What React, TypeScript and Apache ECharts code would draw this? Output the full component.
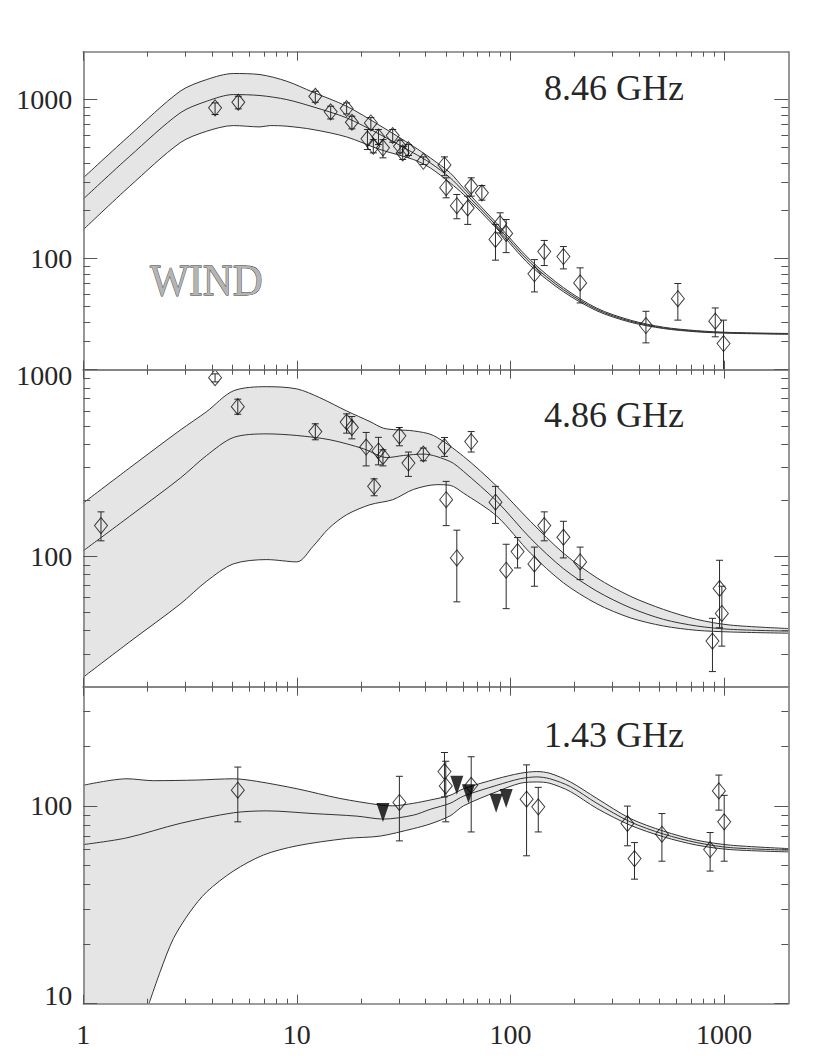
import { useEffect, useRef } from 'react';
import * as echarts from 'echarts';

// ---------------- axes ----------------
const X_MIN = 1;
const X_MAX = 2000;
const X_MAJOR_TICKS = [1, 10, 100, 1000];
const X_MINOR_TICKS = [2, 3, 4, 5, 6, 7, 8, 9, 20, 30, 40, 50, 60, 70, 80, 90, 200, 300, 400, 500, 600, 700, 800, 900];

const Y_MIN = [20, 20, 10];
const Y_MAX = [2000, 1000, 400];
const Y_MAJOR_TICKS = [[100, 1000], [100, 1000], [10, 100]];
const Y_MINOR_TICKS = [
  [30, 40, 50, 60, 70, 80, 90, 200, 300, 400, 500, 600, 700, 800, 900],
  [30, 40, 50, 60, 70, 80, 90, 200, 300, 400, 500, 600, 700, 800, 900],
  [20, 30, 40, 50, 60, 70, 80, 90, 200, 300],
];

const FREQ_LABELS = ['8.46 GHz', '4.86 GHz', '1.43 GHz'];
const SOURCE_LABEL = 'WIND';

// ---------------- model curves (x, flux) ----------------
const P1_UPPER = [[1, 322], [1.65, 596], [2.84, 1128], [3.78, 1336], [5.04, 1458], [6.72, 1436], [8.97, 1304], [11.9, 1112], [17.1, 908], [24.5, 686], [35.1, 508], [42.1, 430], [52.2, 346], [60.3, 278], [86.4, 166], [124, 97.7], [177, 65.7], [254, 48.7], [364, 41], [521, 37], [746, 35.2], [1069, 34.3], [2000, 33.8]];
const P1_MID = [[1, 237], [1.65, 440], [2.84, 824], [3.78, 976], [5.04, 1075], [6.72, 1060], [8.97, 1000], [11.9, 900], [17.1, 767], [24.5, 603], [35.1, 462], [42.1, 400], [52.2, 322], [60.3, 265], [86.4, 160], [124, 94], [177, 63.8], [254, 47.8], [364, 40.4], [521, 36.6], [746, 34.9], [1069, 34.1], [2000, 33.6]];
const P1_LOWER = [[1, 152], [1.65, 285], [2.84, 535], [3.78, 632], [5.04, 686], [6.72, 673], [7.5, 686], [8.97, 680], [11.9, 648], [17.1, 582], [24.5, 485], [35.1, 420], [42.1, 372], [52.2, 299], [60.3, 253], [86.4, 154], [124, 90.4], [177, 61.9], [254, 46.9], [364, 39.8], [521, 36.3], [746, 34.6], [1069, 33.9], [2000, 33.4]];

const P2_UPPER = [[1, 193], [1.65, 298], [2.84, 474], [3.78, 596], [5.04, 770], [7.23, 811], [10, 789], [12.8, 708], [17.1, 601], [22, 527], [25.4, 486], [29.4, 476], [35.1, 470], [43.6, 444], [60.3, 343], [86.4, 237], [124, 154], [177, 104], [254, 76.6], [364, 61.1], [521, 51.9], [746, 45.9], [1069, 42.8], [2000, 41]];
const P2_MID = [[1, 107], [1.65, 164], [2.84, 262], [3.78, 347], [5.04, 433], [7.23, 453], [10, 444], [14.3, 421], [20.5, 377], [26.4, 338], [31.6, 347], [39.1, 353], [52.2, 322], [60.3, 285], [86.4, 197], [124, 125], [177, 85.9], [254, 65], [364, 53], [521, 45.9], [746, 42.3], [1069, 40.6], [2000, 39.7]];
const P2_LOWER = [[1, 22.5], [1.65, 34.8], [2.84, 55.4], [3.78, 73.5], [5.04, 91], [7.23, 96], [10, 93.3], [11.9, 113], [14.1, 141], [17.1, 167], [22, 189], [28.1, 201], [35.1, 228], [45.2, 242], [52.2, 240], [60.3, 218], [86.4, 164], [124, 104], [177, 72.1], [254, 55.6], [364, 46.8], [521, 42.3], [746, 40.1], [1069, 39.3], [2000, 38.7]];

const P3_UPPER = [[1, 127], [1.6, 137], [2.13, 134], [3.4, 135], [5.04, 137], [6.49, 133], [10, 122], [15.9, 109], [24.5, 101], [28.1, 100], [35.1, 103], [42.1, 107], [52.2, 113], [60.3, 122], [86.4, 137], [111, 146], [133, 149], [153, 146], [191, 132], [254, 109], [364, 86.3], [521, 74.5], [746, 67], [1069, 63.3], [2000, 60.8]];
const P3_MID = [[1, 63.7], [1.6, 68.9], [2.84, 81.5], [5.04, 92.2], [7.23, 94.3], [11.9, 91.4], [19.1, 88.7], [25.4, 85.7], [35.1, 89.7], [42.1, 96], [52.2, 103], [60.3, 112], [86.4, 127], [111, 137], [133, 140], [153, 137], [191, 125], [254, 103], [364, 83], [521, 72], [746, 65.2], [1069, 61.5], [2000, 59.7]];
const P3_LOWER = [[2.03, 10], [2.29, 14.5], [2.64, 21.3], [3.16, 29.1], [3.78, 36.7], [5.04, 46.8], [6.97, 56.4], [10, 62.8], [17.1, 68.4], [24.5, 70.3], [35.1, 76.7], [42.1, 81], [52.2, 89], [60.3, 100], [86.4, 118], [111, 130], [133, 132], [153, 130], [191, 118], [254, 97], [364, 79.8], [521, 69.7], [746, 63.3], [1069, 60.1], [2000, 58.5]];

// ---------------- measurements: [x, flux, low, high] ----------------
const P1_POINTS = [
  [4.14, 887, 805, 953], [5.32, 962, 874, 1049], [12.2, 1049, 962, 1128], [14.4, 837, 755, 908],
  [17.1, 878, 812, 953], [18.1, 720, 654, 786], [22.2, 713, 648, 770], [21.4, 566, 485, 648],
  [22.8, 508, 462, 560], [24.1, 582, 521, 648], [25.3, 497, 430, 560], [28.1, 594, 539, 648],
  [30.4, 508, 462, 555], [31.3, 462, 420, 508], [33.3, 485, 445, 521], [39.1, 409, 390, 436],
  [49.1, 388, 332, 436], [50, 279, 241, 322], [56.1, 215, 178, 253], [63.1, 208, 164, 247],
  [65.5, 285, 247, 322], [73.5, 259, 233, 288], [85.1, 132, 97.7, 164], [89.5, 166, 145, 194],
  [95.5, 144, 109, 176], [129.5, 80.2, 61.7, 98.5], [144, 110.6, 90.4, 130], [177, 103, 86.1, 119],
  [212, 70.3, 52.6, 87.4], [431, 37.9, 29.5, 46.6], [608, 55.9, 41, 69.7], [910, 40.4, 32.2, 48.9],
  [995, 29.2, 18, 41],
];
const P2_POINTS = [
  [1.21, 146, 121, 173], [4.14, 906, 860, 950], [5.29, 634, 577, 695], [12.2, 466, 421, 513],
  [17.1, 524, 457, 580], [18.1, 490, 426, 561], [21.1, 385, 305, 461], [24.1, 367, 309, 434],
  [25.3, 343, 305, 372], [23.0, 237, 211, 260], [30.2, 442, 391, 490], [33.3, 316, 268, 362],
  [39.1, 353, 325, 380], [49.1, 387, 343, 433], [50, 201, 146, 252], [65.5, 412, 362, 466],
  [56.1, 98, 57, 138], [85.1, 195, 150, 237], [95.5, 84.2, 52.4, 116], [108, 106, 86.6, 126],
  [129.5, 91, 69.1, 112], [144, 146, 121, 173], [177, 126.5, 98, 154], [212, 93.3, 75, 112],
  [883, 35.1, 24.1, 46.5], [953, 67.2, 41.4, 95.2], [977, 49.4, 33, 69.1],
];
const P3_POINTS = [
  [5.29, 120, 83, 157], [30.2, 104, 66.5, 141], [49.1, 149, 111, 186], [49.8, 126, 83, 168],
  [65.5, 127, 73.8, 177], [119, 108, 55.9, 161], [135, 98.8, 73.8, 124], [353, 81.4, 62.8, 99.7],
  [381, 54.1, 42.6, 65.2], [512, 71.9, 52.5, 91.4], [861, 60.1, 46.8, 73.3], [946, 119, 95.1, 143],
  [1002, 83, 52.5, 113],
];
// upper limits (filled down-pointing triangles), 1.43 GHz
const P3_LIMITS = [[25.3, 92.5], [56.1, 127], [63.6, 115], [85.7, 103], [95.5, 109]];

// ---------------- styling ----------------
const FONT = '"Liberation Serif", "Times New Roman", serif';
const TEXT = '#262626';
const AXIS = '#7d7d7d';
const TICK = '#555';
const LINE = '#333';
const BAND = '#e5e5e5';
const ERR = '#2a2a2a';
const CAP = 3.5;
const SMOOTH = 0.3;
const GRIDS = [
  { left: 83.3, top: 51.7, width: 705, height: 318 },
  { left: 83.3, top: 369.7, width: 705, height: 317 },
  { left: 83.3, top: 686.7, width: 705, height: 317 },
];

function xAxes(g: number) {
  const base: any = {
    type: 'log', logBase: 10, gridIndex: g, min: X_MIN, max: X_MAX, z: 10,
    splitLine: { show: false }, axisPointer: { show: false },
  };
  const line = { show: true, onZero: false, lineStyle: { color: AXIS, width: 1.6 } };
  const major = { show: true, inside: true, length: 9, customValues: X_MAJOR_TICKS, lineStyle: { color: TICK, width: 1 } };
  const minor = { show: true, inside: true, length: 5, customValues: X_MINOR_TICKS, lineStyle: { color: TICK, width: 1 } };
  const label = g === 2
    ? { show: true, customValues: X_MAJOR_TICKS, margin: 17, fontFamily: FONT, fontSize: 28, color: TEXT, formatter: (v: number) => String(Math.round(v)) }
    : { show: false };
  return [
    { ...base, position: 'bottom', axisLine: line, axisTick: major, axisLabel: label },
    { ...base, position: 'bottom', axisLine: { show: false }, axisTick: minor, axisLabel: { show: false } },
    { ...base, position: 'top', axisLine: line, axisTick: major, axisLabel: { show: false } },
    { ...base, position: 'top', axisLine: { show: false }, axisTick: minor, axisLabel: { show: false } },
  ];
}

function yAxes(g: number) {
  const base: any = {
    type: 'log', logBase: 10, gridIndex: g, min: Y_MIN[g], max: Y_MAX[g], z: 10,
    splitLine: { show: false }, axisPointer: { show: false },
  };
  const line = { show: true, onZero: false, lineStyle: { color: AXIS, width: 1.6 } };
  const major = { show: true, inside: true, length: 14, customValues: Y_MAJOR_TICKS[g], lineStyle: { color: TICK, width: 1 } };
  const minor = { show: true, inside: true, length: 7, customValues: Y_MINOR_TICKS[g], lineStyle: { color: TICK, width: 1 } };
  const rt = { fontFamily: FONT, fontSize: 28, color: TEXT };
  const label = {
    show: true, customValues: Y_MAJOR_TICKS[g], margin: 11, ...rt,
    formatter: (v: number) => {
      const s = String(Math.round(v));
      if (Math.abs(v - Y_MIN[g]) < 1e-6) return `{lo|${s}}`;
      if (Math.abs(v - Y_MAX[g]) < 1e-6) return `{hi|${s}}`;
      return `{n|${s}}`;
    },
    rich: {
      n: { ...rt },
      lo: { ...rt, padding: [0, 0, 17, 0] },
      hi: { ...rt, padding: [12, 0, 0, 0] },
    },
  };
  return [
    { ...base, position: 'left', axisLine: line, axisTick: major, axisLabel: label },
    { ...base, position: 'left', axisLine: { show: false }, axisTick: minor, axisLabel: { show: false } },
    { ...base, position: 'right', axisLine: line, axisTick: major, axisLabel: { show: false } },
    { ...base, position: 'right', axisLine: { show: false }, axisTick: minor, axisLabel: { show: false } },
  ];
}

// area under a curve down to the axis bottom (grey for the upper bound, white for the lower bound)
function areaSeries(g: number, data: number[][], color: string, z: number) {
  return {
    type: 'line', xAxisIndex: 4 * g, yAxisIndex: 4 * g, data, showSymbol: false, symbol: 'none',
    silent: true, z, smooth: SMOOTH,
    lineStyle: { width: 0, opacity: 0 },
    areaStyle: { color, opacity: 1, origin: 'start' },
  };
}

function curveSeries(g: number, data: number[][]) {
  return {
    type: 'line', xAxisIndex: 4 * g, yAxisIndex: 4 * g, data, showSymbol: false, symbol: 'none',
    silent: true, z: 3, smooth: SMOOTH, lineStyle: { color: LINE, width: 1 },
  };
}

function errorSeries(g: number, pts: number[][]) {
  return {
    type: 'custom', xAxisIndex: 4 * g, yAxisIndex: 4 * g, silent: true, clip: true, z: 4,
    data: pts, encode: { x: 0, y: 1 },
    renderItem: (params: any, api: any) => {
      const x = api.value(0);
      const lo = api.coord([x, api.value(2)]);
      const hi = api.coord([x, api.value(3)]);
      const cs = params.coordSys;
      const yTop = cs.y;
      const yBot = cs.y + cs.height;
      const clamp = (v: number) => Math.min(Math.max(v, yTop), yBot);
      const style = { stroke: ERR, lineWidth: 1 };
      const children: any[] = [
        { type: 'line', shape: { x1: hi[0], y1: clamp(hi[1]), x2: lo[0], y2: clamp(lo[1]) }, style },
      ];
      if (hi[1] >= yTop) children.push({ type: 'line', shape: { x1: hi[0] - CAP, y1: hi[1], x2: hi[0] + CAP, y2: hi[1] }, style });
      if (lo[1] <= yBot) children.push({ type: 'line', shape: { x1: lo[0] - CAP, y1: lo[1], x2: lo[0] + CAP, y2: lo[1] }, style });
      return { type: 'group', children };
    },
  };
}

function diamondSeries(g: number, pts: number[][]) {
  return {
    type: 'scatter', xAxisIndex: 4 * g, yAxisIndex: 4 * g, silent: true, z: 5,
    data: pts.map((p) => [p[0], p[1]]),
    symbol: 'diamond', symbolSize: [13, 16],
    itemStyle: { color: 'rgba(0,0,0,0)', borderColor: '#111', borderWidth: 1 },
  };
}

function panelSeries(g: number, upper: number[][], mid: number[][], lower: number[][], pts: number[][]) {
  return [
    areaSeries(g, upper, BAND, 1),
    areaSeries(g, lower, '#ffffff', 2),
    curveSeries(g, upper), curveSeries(g, mid), curveSeries(g, lower),
    errorSeries(g, pts), diamondSeries(g, pts),
  ];
}

export default function App() {
  const ref = useRef<HTMLDivElement>(null);
  useEffect(() => {
    if (!ref.current) return;
    const chart = echarts.init(ref.current, undefined, { renderer: 'svg' });
    const freqY = [88, 415, 735];
    chart.setOption({
      animation: false,
      backgroundColor: '#fff',
      grid: GRIDS.map((g) => ({ ...g, containLabel: false, outerBoundsMode: 'none' })),
      xAxis: [...xAxes(0), ...xAxes(1), ...xAxes(2)],
      yAxis: [...yAxes(0), ...yAxes(1), ...yAxes(2)],
      series: [
        ...panelSeries(0, P1_UPPER, P1_MID, P1_LOWER, P1_POINTS),
        ...panelSeries(1, P2_UPPER, P2_MID, P2_LOWER, P2_POINTS),
        ...panelSeries(2, P3_UPPER, P3_MID, P3_LOWER, P3_POINTS),
        {
          type: 'scatter', xAxisIndex: 8, yAxisIndex: 8, silent: true, z: 6,
          data: P3_LIMITS, symbol: 'triangle', symbolRotate: 180, symbolSize: [13, 19],
          itemStyle: { color: '#000' },
        },
      ],
      graphic: [
        ...FREQ_LABELS.map((t, i) => ({
          type: 'text', x: 614, y: freqY[i], silent: true, z: 100,
          style: { text: t, fontFamily: FONT, fontSize: 36, fill: TEXT, align: 'center', verticalAlign: 'middle' },
        })),
        {
          type: 'text', x: 150, y: 279, scaleX: 0.92, silent: true, z: 100,
          style: {
            text: SOURCE_LABEL, fontFamily: FONT, fontSize: 45,
            fill: '#b4b4b4', stroke: '#1e1e1e', lineWidth: 0.8, align: 'left', verticalAlign: 'middle',
          },
        },
      ],
    });
    return () => chart.dispose();
  }, []);
  return <div ref={ref} style={{ position: 'absolute', left: 0, top: 0, width: 830, height: 1057 }} />;
}
